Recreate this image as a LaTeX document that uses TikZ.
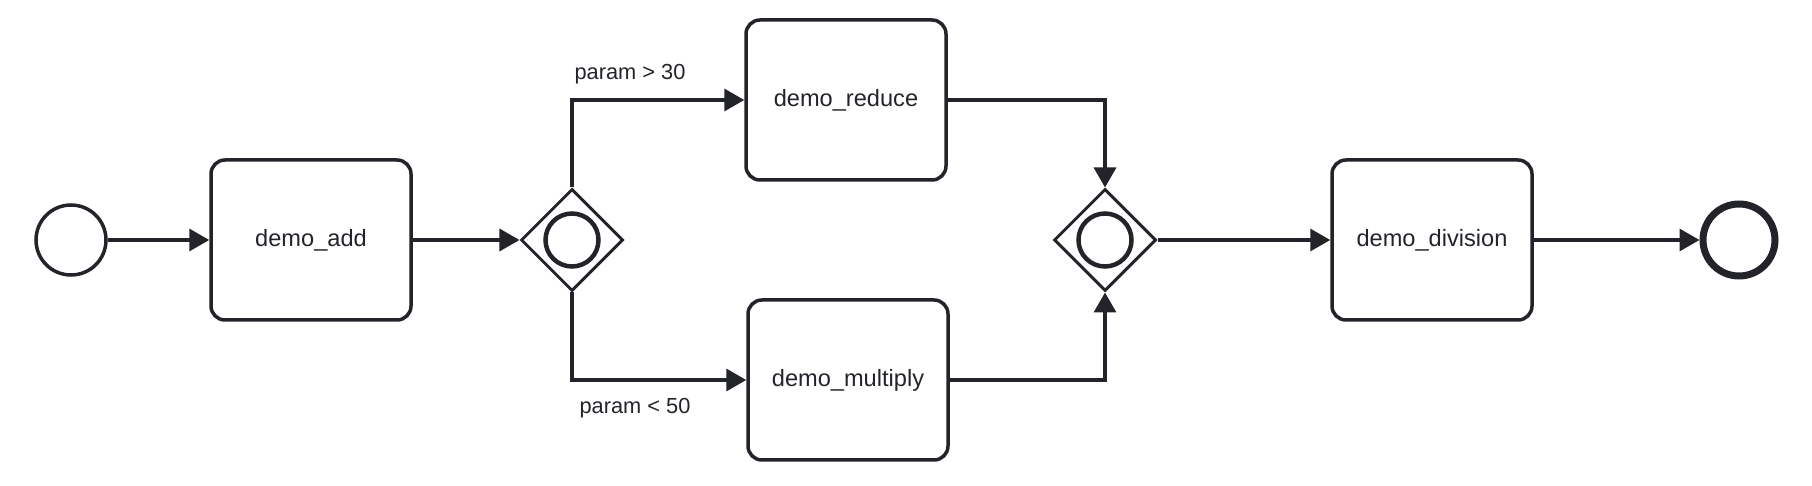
\documentclass[tikz,border=0pt]{standalone}
\usepackage{fontspec}
\setmainfont{Liberation Sans}
\usetikzlibrary{arrows.meta,shapes.geometric}
\definecolor{ink}{RGB}{34,36,42}
\begin{document}
\begin{tikzpicture}[x=0.5pt,y=-0.5pt,
  task/.style={draw=ink, line width=1.75pt, rounded corners=7pt, minimum width=100pt,
    minimum height=80pt, inner sep=0pt, text=ink, text height=8pt, text depth=1.2pt,
    font=\fontsize{11.8pt}{14pt}\selectfont},
  startev/.style={circle, draw=ink, line width=1.75pt, minimum size=35pt, inner sep=0pt},
  endev/.style={circle, draw=ink, line width=3.5pt, minimum size=36pt, inner sep=0pt},
  gateway/.style={diamond, aspect=1, draw=ink, line width=1.5pt, minimum width=51pt,
    minimum height=51pt, inner sep=0pt},
  gwring/.style={circle, draw=ink, line width=2.25pt, minimum size=26.5pt, inner sep=0pt},
  flow/.style={draw=ink, line width=1.75pt, -{Triangle[length=10pt,width=11pt]}},
  lbl/.style={text=ink, inner sep=0pt, font=\fontsize{10.9pt}{13pt}\selectfont}
]
\useasboundingbox (0,0) rectangle (1812,486);
\node[startev] (start) at (71,240) {};
\node[task] (add) at (311,240) {demo\_add};
\node[gateway] (g1) at (572,240) {};
\node[gwring] (g1r) at (572,240) {};
\node[task] (reduce) at (846,100) {demo\_reduce};
\node[task] (mult) at (848,380) {demo\_multiply};
\node[gateway] (g2) at (1105,240) {};
\node[gwring] (g2r) at (1105,240) {};
\node[task] (div) at (1432,240) {demo\_division};
\node[endev] (end) at (1739,240) {};
\node[lbl] (l1) at (630,74) {param > 30};
\node[lbl] (l2) at (635,408) {param < 50};
\draw[flow] (start) -- (add);
\draw[flow] (add) -- (g1);
\draw[flow] (g1.north) |- (reduce.west);
\draw[flow] (g1.south) |- (mult.west);
\draw[flow] (reduce.east) -| (g2.north);
\draw[flow] (mult.east) -| (g2.south);
\draw[flow] (g2) -- (div);
\draw[flow] (div) -- (end);
\end{tikzpicture}
\end{document}
